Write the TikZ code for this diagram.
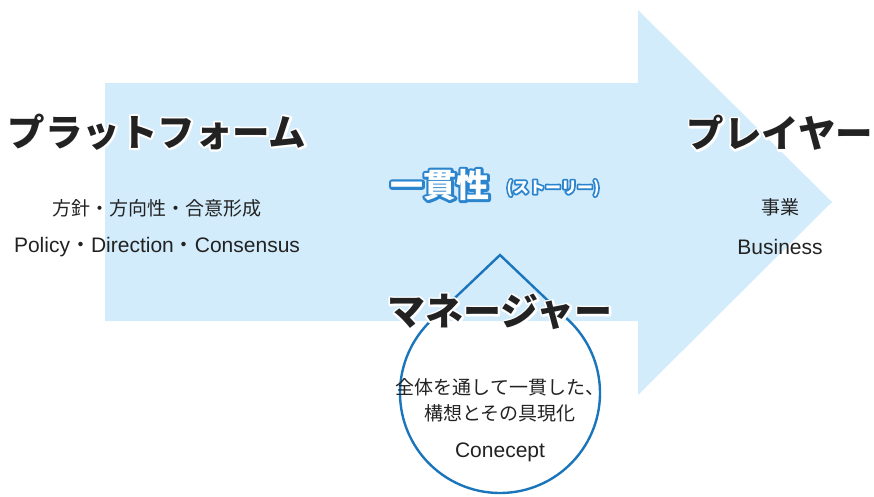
\documentclass[tikz,border=0pt]{standalone}
\usepackage{fontspec}
\newfontfamily\jp{Noto Sans CJK JP}
\newfontfamily\latin{Liberation Sans}
\usetikzlibrary{calc}

\definecolor{arrowblue}{HTML}{D3ECFB}
\definecolor{dropblue}{HTML}{1B75BB}
\definecolor{glowblue}{HTML}{2A84CE}
\definecolor{ink}{HTML}{222222}

% text with a stroked halo behind it
\newcommand{\glowtext}[3]{\rlap{\color{#1}\special{pdf:literal direct #2 w 1 j 1 Tr}#3\special{pdf:literal direct 0 Tr}}#3}

\tikzset{
  headline/.style={font=\jp\bfseries\fontsize{37.5}{40}\selectfont, text=ink, inner sep=0},
  subline/.style={font=\jp\fontsize{19}{22}\selectfont, text=ink, inner sep=0},
  latinline/.style={font=\latin\fontsize{21}{24}\selectfont, text=ink, inner sep=0},
  drop/.style={draw=dropblue, line width=2.4pt, line join=miter}
}

\begin{document}
\begin{tikzpicture}[x=1pt,y=-1pt]
      \useasboundingbox (0,0) rectangle (874,496);

      % big arrow
      \fill[arrowblue] (105,83) -- (638,83) -- (638,10) -- (832,202)
            -- (638,395) -- (638,321) -- (105,321) -- cycle;

      % drop
      \coordinate (c) at (500,393);
      \coordinate (tip) at (500,255);
      \draw[drop] (tip) -- ([shift={(-46.4:100)}]c)
            arc[start angle=-46.4, end angle=226.4, radius=100] -- cycle;

      % platform
      \node [headline] (platform) at (157,132) {\glowtext{white}{4}{プラットフォーム}};
      \node [subline] (policyjp) at (157,208) {方針・方向性・合意形成};
      \node [latinline] (policyen) at (157,247) {Policy{\jp ・}Direction{\jp ・}Consensus};

      % player
      \node [headline] (player) at (780,133) {\glowtext{white}{4}{プレイヤー}};
      \node [subline] (bizjp) at (780,207) {事業};
      \node [latinline] (bizen) at (780,247) {Business};

      % story
      \node [font=\jp\bfseries\fontsize{33}{36}\selectfont, text=white, inner sep=0] (story)
            at (440,185) {\glowtext{glowblue}{5}{一貫性}};
      \node [font=\jp\bfseries\fontsize{16}{18}\selectfont, text=white, inner sep=0] (storykana)
            at (553,188) {\glowtext{glowblue}{3.5}{(ストーリー)}};

      % manager
      \node [headline, font=\jp\bfseries\fontsize{38}{40}\selectfont] (manager)
            at (500,312) {\glowtext{white}{4}{マネージャー}};
      \node [subline] (concept1) at (500,387) {全体を通して一貫した、};
      \node [subline] (concept2) at (500,413) {構想とその具現化};
      \node [latinline] (concepten) at (500,452) {Conecept};
\end{tikzpicture}
\end{document}
